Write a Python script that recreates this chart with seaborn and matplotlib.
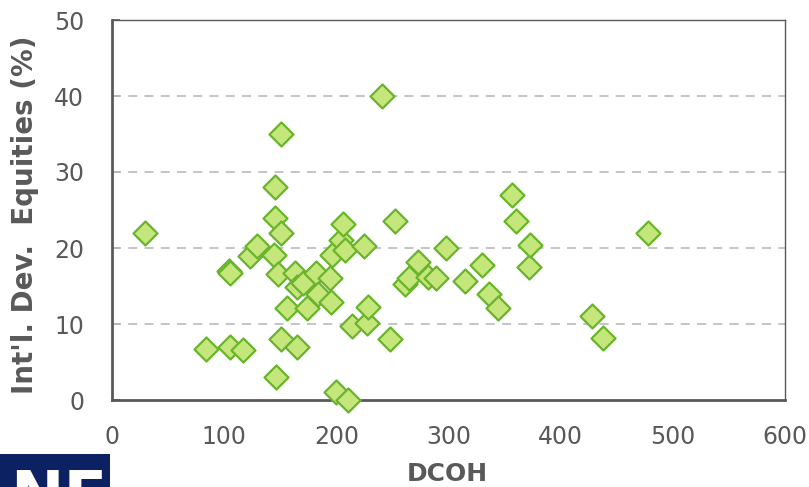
import matplotlib
matplotlib.use("Agg")
import matplotlib.pyplot as plt
import seaborn as sns
import pandas as pd
from matplotlib.patches import Rectangle

# Data
dcoh = [29, 84, 104, 105, 105, 117, 123, 129, 144, 145,
        145, 146, 148, 151, 151, 151, 156, 163, 165, 165,
        170, 174, 182, 184, 194, 195, 196, 200, 204, 206,
        208, 210, 214, 225, 227, 228, 241, 248, 252, 261,
        265, 273, 282, 289, 298, 315, 330, 336, 344, 357,
        360, 372, 373, 428, 438, 478]
intl_dev_eq = [22.0, 6.7, 17.0, 16.7, 7.0, 6.6, 18.9, 20.2, 19.1, 28.0,
               24.0, 3.0, 16.6, 22.0, 35.0, 8.0, 12.1, 16.7, 7.0, 14.9,
               15.4, 12.1, 16.7, 14.0, 16.0, 12.9, 19.1, 1.1, 21.1, 23.1,
               19.7, 0.0, 9.7, 20.3, 10.1, 12.2, 40.0, 8.0, 23.5, 15.2,
               16.0, 18.1, 16.2, 16.0, 20.0, 15.6, 17.8, 14.0, 12.1, 27.0,
               23.5, 17.5, 20.4, 11.0, 8.2, 22.0]
x_ticks = [0, 100, 200, 300, 400, 500, 600]
y_ticks = [0, 10, 20, 30, 40, 50]

df = pd.DataFrame({"DCOH": dcoh, "IntlDev": intl_dev_eq})

sns.set_theme(style="white")
plt.rcParams['font.family'] = ['DejaVu Sans']

fig = plt.figure(figsize=(8.09, 4.87), dpi=100)
ax = fig.add_axes([112/809, 1 - 400/487, (785 - 112)/809, (400 - 20)/487])

sns.scatterplot(data=df, x="DCOH", y="IntlDev", ax=ax, marker="D", s=150,
                color="#C4E67A", edgecolor="#6AB42D", linewidth=1.6, zorder=3,
                legend=False, clip_on=False)

ax.set_xlim(0, 600)
ax.set_ylim(0, 50)
ax.set_xticks(x_ticks)
ax.set_yticks(y_ticks)
ax.set_xticklabels([str(v) for v in x_ticks])
ax.set_yticklabels([str(v) for v in y_ticks])

for y in y_ticks[1:-1]:
    ax.axhline(y, color="#BFBFBF", linestyle=(0, (5, 4)), linewidth=1.3, zorder=1)

for side in ["left", "bottom"]:
    ax.spines[side].set_color("#595959")
    ax.spines[side].set_linewidth(2.0)
for side in ["top", "right"]:
    ax.spines[side].set_color("#595959")
    ax.spines[side].set_linewidth(1.0)

ax.tick_params(axis="both", labelsize=17, colors="#595959", labelcolor="#595959")
ax.tick_params(axis="y", direction="in", length=6, width=1.2, left=True, pad=20)
ax.tick_params(axis="x", length=0, pad=18)

ax.set_xlabel("DCOH", fontsize=18, fontweight="bold", color="#595959")
ax.set_ylabel("Int'l. Dev.  Equities (%)", fontsize=20, fontweight="bold",
              color="#595959")
ax.xaxis.set_label_coords((447 - 112) / 673, (400 - 462) / 380)
ax.yaxis.set_label_coords((39 - 112) / 673, 0.5 - 5 / 380)

# partially cropped logo in bottom-left corner
logo = Rectangle((0, 0), 110/809, 33/487, transform=fig.transFigure,
                 facecolor="#0B2161", edgecolor="none", zorder=0)
fig.patches.append(logo)
t = fig.text(10/809, 1 - 468/487, "NEPC", transform=fig.transFigure, color="white",
             fontsize=46, fontweight="bold", va="top", ha="left")
t.set_clip_path(logo)

fig.savefig("out.png", dpi=100)
